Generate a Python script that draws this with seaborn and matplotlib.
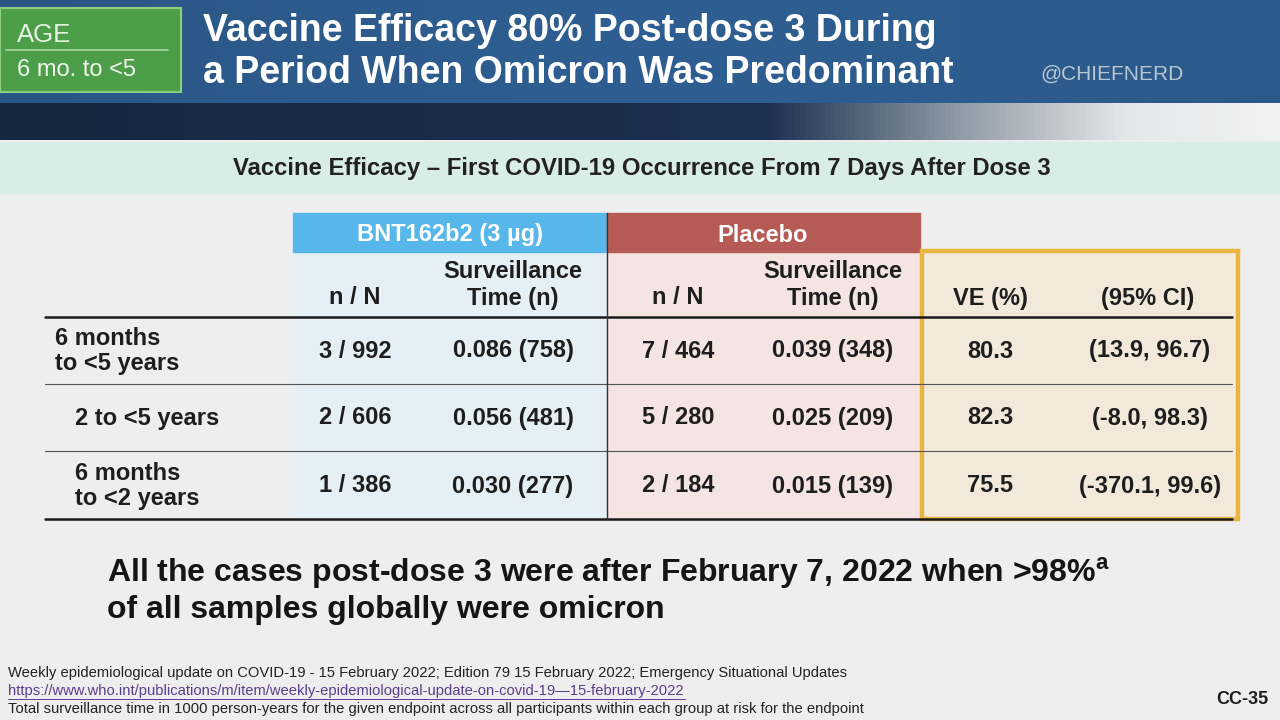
"""Recreate the VE post-dose 3 slide as a seaborn/matplotlib figure."""
import matplotlib.pyplot as plt
import numpy as np
import seaborn as sns
from matplotlib.colors import LinearSegmentedColormap
from matplotlib.patches import Rectangle

# table data
row_labels = ["6 months\nto <5 years", "2 to <5 years", "6 months\nto <2 years"]
row_indent = [55, 75, 75]
bnt_cases = [3, 2, 1]
bnt_total = [992, 606, 386]
bnt_time = [0.086, 0.056, 0.030]
bnt_at_risk = [758, 481, 277]
placebo_cases = [7, 5, 2]
placebo_total = [464, 280, 184]
placebo_time = [0.039, 0.025, 0.015]
placebo_at_risk = [348, 209, 139]
ve = [80.3, 82.3, 75.5]
ci_low = [13.9, -8.0, -370.1]
ci_high = [96.7, 98.3, 99.6]

title_lines = ["Vaccine Efficacy 80% Post-dose 3 During",
               "a Period When Omicron Was Predominant"]
subtitle = "Vaccine Efficacy \u2013 First COVID-19 Occurrence From 7 Days After Dose 3"
footnotes = [
    "Weekly epidemiological update on COVID-19 - 15 February 2022; Edition 79 15 February 2022; Emergency Situational Updates",
    "https://www.who.int/publications/m/item/weekly-epidemiological-update-on-covid-19\u201415-february-2022",
    "Total surveillance time in 1000 person-years for the given endpoint across all participants within each group at risk for the endpoint",
]

sns.set_theme(style="white")
plt.rcParams["font.family"] = ["Liberation Sans", "DejaVu Sans"]

fig = plt.figure(figsize=(12.8, 7.2), dpi=100)
ax = fig.add_axes([0, 0, 1, 1])
ax.set_xlim(0, 1280)
ax.set_ylim(720, 0)
ax.axis("off")

# page background
ax.add_patch(Rectangle((0, 0), 1280, 720, color="#efeeee", zorder=0))

# blue banner with dark band fading to the right
banner = LinearSegmentedColormap.from_list("banner", ["#2a5686", "#2f5f92", "#2b5a8a"])
ax.imshow(np.linspace(0, 1, 256)[None, :], cmap=banner, extent=(0, 1280, 103, 0),
          aspect="auto", zorder=1)
band = LinearSegmentedColormap.from_list(
    "band", [(0, "#16273f"), (0.6, "#1c3050"), (0.75, "#8f9ba6"), (0.88, "#e4e6e8"), (1, "#f2f2f2")])
ax.imshow(np.linspace(0, 1, 256)[None, :], cmap=band, extent=(0, 1280, 140, 103),
          aspect="auto", zorder=1)

# age box
ax.add_patch(Rectangle((0, 8), 181, 84, facecolor="#4d9e48", edgecolor="#8ccf80",
                       linewidth=1.5, zorder=2))
ax.plot([6, 168], [50, 50], color="#a8d8a0", linewidth=1.2, zorder=3)
ax.text(17, 35, "AGE", color="#e6f2e2", fontsize=18.5, va="center", zorder=3)
ax.text(17, 70, "6 mo. to <5", color="#f2f8ee", fontsize=17, va="center", zorder=3)

for i, line in enumerate(title_lines):
    ax.text(203, 31 + 42 * i, line, color="white", fontsize=27, fontweight="bold",
            va="center", zorder=3)
ax.text(1040, 74, "@CHIEFNERD", color="#b9c6d4", fontsize=15, va="center", zorder=3)

# subtitle band
ax.add_patch(Rectangle((0, 142), 1280, 51, color="#d9ede7", zorder=1))
ax.text(642, 168, subtitle, color="#222222", fontsize=17.2, fontweight="bold",
        ha="center", va="center", zorder=3)

# column geometry
left, right = 45, 1237
col_x = [355, 508, 678, 828, 990, 1150]
header_top, group_bottom, head_bottom, table_bottom = 213, 252, 317, 519
row_y = [351, 418, 486]
row_edges = [317, 384, 451, 519]

# group backgrounds
ax.add_patch(Rectangle((293, group_bottom), 314, table_bottom - group_bottom,
                       color="#e4f0f6", zorder=1))
ax.add_patch(Rectangle((607, group_bottom), 313, table_bottom - group_bottom,
                       color="#f4e4e2", zorder=1))
ax.add_patch(Rectangle((293, header_top), 314, group_bottom - header_top,
                       color="#57b6ea", zorder=2))
ax.add_patch(Rectangle((607, header_top), 313, group_bottom - header_top,
                       color="#b65a55", zorder=2))
ax.add_patch(Rectangle((922, 251), 316, 268, facecolor="#f2e9da", edgecolor="#e8b640",
                       linewidth=3.2, zorder=2))

ax.text(450, 235, "BNT162b2 (3 \u00b5g)", color="white", fontsize=17, fontweight="bold",
        ha="center", va="center", zorder=3)
ax.text(763, 235, "Placebo", color="white", fontsize=17, fontweight="bold",
        ha="center", va="center", zorder=3)

# column headers
hdr = dict(color="#1e1e1e", fontsize=17, fontweight="bold", ha="center", va="center", zorder=4)
for x in (col_x[0], col_x[2]):
    ax.text(x, 298, "n / N", **hdr)
for x in (col_x[1], col_x[3]):
    ax.text(x + 5, 271, "Surveillance", **hdr)
    ax.text(x + 5, 298, "Time (n)", **hdr)
ax.text(col_x[4], 298, "VE (%)", **hdr)
ax.text(col_x[5] - 2, 298, "(95% CI)", **hdr)

# rules
ax.plot([left, right - 5], [head_bottom, head_bottom], color="#1a1a1a", linewidth=1.8, zorder=5)
ax.plot([left, right - 5], [table_bottom, table_bottom], color="#1a1a1a", linewidth=1.8, zorder=5)
for y in row_edges[1:-1]:
    ax.plot([left, right - 5], [y, y], color="#555555", linewidth=0.8, zorder=5)
ax.plot([607, 607], [header_top, table_bottom], color="#333333", linewidth=1.0, zorder=5)

# body cells
cell = dict(color="#1e1e1e", fontsize=17, fontweight="bold", ha="center", va="center", zorder=4)
for i, y in enumerate(row_y):
    ax.text(row_indent[i], y, row_labels[i], color="#1e1e1e", fontsize=17, fontweight="bold",
            va="center", linespacing=1.15, zorder=4)
    ax.text(col_x[0], y, f"{bnt_cases[i]} / {bnt_total[i]}", **cell)
    ax.text(col_x[1] + 5, y, f"{bnt_time[i]:.3f} ({bnt_at_risk[i]})", **cell)
    ax.text(col_x[2], y, f"{placebo_cases[i]} / {placebo_total[i]}", **cell)
    ax.text(col_x[3] + 5, y, f"{placebo_time[i]:.3f} ({placebo_at_risk[i]})", **cell)
    ax.text(col_x[4], y, f"{ve[i]:.1f}", **cell)
    ax.text(col_x[5], y, f"({ci_low[i]:.1f}, {ci_high[i]:.1f})", **cell)

# takeaway
ax.text(107, 573, "All the cases post-dose 3 were after February 7, 2022 when >98%$^{\\mathregular{a}}$",
        color="#151515", fontsize=23, fontweight="bold", va="center", zorder=4)
ax.text(107, 610, "of all samples globally were omicron", color="#151515", fontsize=23,
        fontweight="bold", va="center", zorder=4)

# footnotes
foot_colors = ["#222222", "#5a3c8c", "#222222"]
for i, note in enumerate(footnotes):
    ax.text(8, 673 + 18 * i, note, color=foot_colors[i], fontsize=10.6, va="center", zorder=4)
ax.plot([8, 685], [699, 699], color=foot_colors[1], linewidth=0.7, zorder=4)
ax.text(1268, 700, "CC-35", color="#1e1e1e", fontsize=13, fontweight="bold",
        ha="right", va="center", zorder=4)

fig.savefig("out.png", dpi=100)
